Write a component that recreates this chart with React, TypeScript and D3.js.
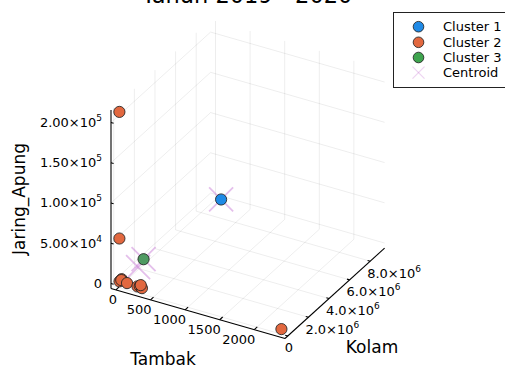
import React from "react";
import * as d3 from "d3";

// ---- data ----
const seriesNames = ["Cluster 1", "Cluster 2", "Cluster 3", "Centroid"];

const cluster1Tambak = [200];
const cluster1Kolam = [8600000];
const cluster1Jaring = [8000];

const cluster2Tambak = [10, 10, 5, 40, 25, 116, 270, 298, 333, 310, 2352];
const cluster2Kolam = [0, 0, 50000, 20000, 80000, 30000, 10000, 40000, 20000, 60000, 0];
const cluster2Jaring = [212000, 54700, 800, 4700, 2500, 1600, 1500, 2200, 800, 3500, 0];

const cluster3Tambak = [300];
const cluster3Kolam = [400000];
const cluster3Jaring = [31500];

const centroidTambak = [200, 276, 300];
const centroidKolam = [8600000, 28000, 400000];
const centroidJaring = [8000, 25500, 31500];

const tambakTicks = [0, 500, 1000, 1500, 2000];
const kolamTicks = [0, 2e6, 4e6, 6e6, 8e6];
const jaringTicks = [0, 5e4, 1e5, 1.5e5, 2e5];
const kolamTickLabels = [["0", ""], ["2.0×10", "6"], ["4.0×10", "6"], ["6.0×10", "6"], ["8.0×10", "6"]];
const jaringTickLabels = [["0", ""], ["5.00×10", "4"], ["1.00×10", "5"], ["1.50×10", "5"], ["2.00×10", "5"]];

const title = "Tahun 2019 - 2020";

// ---- layout ----
const W = 505, H = 369;
const XMIN = -71, XMAX = 2444;
const YMIN = -270000, YMAX = 9400000;
const ZMIN = -6270, ZMAX = 215500;
const O = { x: 111, y: 288.5 };
const EX = { x: 174, y: 50 };
const EY = { x: 99.6, y: -90.4 };
const EZ = 178.5;

const COLORS = { c1: "#1f8ae6", c2: "#e2683f", c3: "#4f9a62", c3legend: "#3ea44e", cen: "#C371D2" };
const FONT = "DejaVu Sans, Verdana, sans-serif";

const xs = d3.scaleLinear().domain([XMIN, XMAX]).range([0, 1]);
const ys = d3.scaleLinear().domain([YMIN, YMAX]).range([0, 1]);
const zs = d3.scaleLinear().domain([ZMIN, ZMAX]).range([0, EZ]);

function P(x: number, y: number, z: number): [number, number] {
  const a = xs(x), b = ys(y);
  return [O.x + a * EX.x + b * EY.x, O.y + a * EX.y + b * EY.y - zs(z)];
}

function seg(p: [number, number], q: [number, number]) {
  return d3.line()([p, q]) as string;
}

function XMark({ cx, cy, r }: { cx: number; cy: number; r: number }) {
  return (
    <g stroke={COLORS.cen} strokeOpacity={0.45} strokeWidth={1.8}>
      <line x1={cx - r} y1={cy - r} x2={cx + r} y2={cy + r} />
      <line x1={cx - r} y1={cy + r} x2={cx + r} y2={cy - r} />
    </g>
  );
}

export default function App() {
  const grid: string[] = [];
  // floor
  tambakTicks.forEach((t) => grid.push(seg(P(t, YMIN, ZMIN), P(t, YMAX, ZMIN))));
  kolamTicks.forEach((k) => grid.push(seg(P(XMIN, k, ZMIN), P(XMAX, k, ZMIN))));
  // wall x = xmin
  kolamTicks.forEach((k) => grid.push(seg(P(XMIN, k, ZMIN), P(XMIN, k, ZMAX))));
  jaringTicks.forEach((z) => grid.push(seg(P(XMIN, YMIN, z), P(XMIN, YMAX, z))));
  // wall y = ymax
  tambakTicks.forEach((t) => grid.push(seg(P(t, YMAX, ZMIN), P(t, YMAX, ZMAX))));
  jaringTicks.forEach((z) => grid.push(seg(P(XMIN, YMAX, z), P(XMAX, YMAX, z))));

  const axes = [
    seg(P(XMIN, YMIN, ZMIN), P(XMIN, YMIN, ZMAX)),
    seg(P(XMIN, YMIN, ZMIN), P(XMAX, YMIN, ZMIN)),
    seg(P(XMAX, YMIN, ZMIN), P(XMAX, YMAX, ZMIN)),
  ];
  const tickMarks: string[] = [];
  tambakTicks.forEach((t) => tickMarks.push(seg(P(t, YMIN, ZMIN), P(t, YMIN + 0.03 * (YMAX - YMIN), ZMIN))));
  kolamTicks.forEach((k) => tickMarks.push(seg(P(XMAX, k, ZMIN), P(XMAX - 0.015 * (XMAX - XMIN), k, ZMIN))));
  jaringTicks.forEach((z) => tickMarks.push(seg(P(XMIN, YMIN, z), P(XMIN + 0.015 * (XMAX - XMIN), YMIN, z))));

  const pts = (tx: number[], ky: number[], jz: number[]) => tx.map((t, i) => P(t, ky[i], jz[i]));
  const c1 = pts(cluster1Tambak, cluster1Kolam, cluster1Jaring);
  const c2 = pts(cluster2Tambak, cluster2Kolam, cluster2Jaring);
  const c3 = pts(cluster3Tambak, cluster3Kolam, cluster3Jaring);
  const cen = pts(centroidTambak, centroidKolam, centroidJaring);

  const R = 5.6;
  const legendY = [26.7, 42.3, 57.5, 72.7];

  return (
    <svg width={W} height={H} style={{ position: "absolute", left: 0, top: 0, background: "#fff" }} fontFamily={FONT}>
      <rect x={0} y={0} width={W} height={H} fill="#fff" />
      <text x={247} y={3} fontSize={22.5} textAnchor="middle" fill="#000">{title}</text>
      <g stroke="#000" strokeOpacity={0.07} strokeWidth={1} fill="none">
        {grid.map((d, i) => <path key={i} d={d} />)}
      </g>
      <g stroke="#000" strokeWidth={1.1} fill="none">
        {axes.map((d, i) => <path key={i} d={d} />)}
        {tickMarks.map((d, i) => <path key={"t" + i} d={d} />)}
      </g>
      {/* tick labels */}
      <g fontSize={13} fill="#000">
        {jaringTicks.map((z, i) => {
          const [, y] = P(XMIN, YMIN, z);
          return (
            <text key={i} x={102} y={y + 4.5} textAnchor="end">
              {jaringTickLabels[i][0]}
              {jaringTickLabels[i][1] && <tspan dy={-6} fontSize={9}>{jaringTickLabels[i][1]}</tspan>}
            </text>
          );
        })}
        {tambakTicks.map((t, i) => {
          const [x, y] = P(t, YMIN, ZMIN);
          return (
            <text key={i} x={x + 1} y={y + 14.5} textAnchor="end">{String(t)}</text>
          );
        })}
        {kolamTicks.map((k, i) => {
          const [x, y] = P(XMAX, k, ZMIN);
          return (
            <text key={i} x={x - 3} y={y + 16.5} textAnchor="start">
              {kolamTickLabels[i][0]}
              {kolamTickLabels[i][1] && <tspan dy={-6} fontSize={9}>{kolamTickLabels[i][1]}</tspan>}
            </text>
          );
        })}
      </g>
      {/* axis titles */}
      <g fontSize={17} fill="#000">
        <text x={163} y={365} textAnchor="middle">Tambak</text>
        <text x={372} y={353} textAnchor="middle">Kolam</text>
        <text transform="translate(25,199) rotate(-90)" textAnchor="middle">Jaring_Apung</text>
      </g>
      {/* centroids */}
      {cen.map(([x, y], i) => <XMark key={i} cx={x} cy={y} r={12} />)}
      {/* clusters */}
      <g stroke="#222" strokeOpacity={0.85} strokeWidth={1}>
        {c1.map(([x, y], i) => <circle key={"a" + i} cx={x} cy={y} r={R} fill={COLORS.c1} />)}
        {c2.map(([x, y], i) => <circle key={"b" + i} cx={x} cy={y} r={R} fill={COLORS.c2} />)}
        {c3.map(([x, y], i) => <circle key={"c" + i} cx={x} cy={y} r={R} fill={COLORS.c3} />)}
      </g>
      {/* legend */}
      <rect x={393.5} y={12.5} width={120} height={75} fill="#fff" stroke="#222" strokeWidth={1} />
      <g stroke="#222" strokeOpacity={0.85} strokeWidth={1}>
        <circle cx={418.5} cy={legendY[0]} r={5.3} fill={COLORS.c1} />
        <circle cx={418.5} cy={legendY[1]} r={5.3} fill={COLORS.c2} />
        <circle cx={418.5} cy={legendY[2]} r={5.3} fill={COLORS.c3legend} />
      </g>
      <g stroke={COLORS.cen} strokeOpacity={0.3} strokeWidth={1.2}>
        <line x1={412.5} y1={legendY[3] - 6} x2={424.5} y2={legendY[3] + 6} />
        <line x1={412.5} y1={legendY[3] + 6} x2={424.5} y2={legendY[3] - 6} />
      </g>
      <g fontSize={13} fill="#000">
        {seriesNames.map((s, i) => (
          <text key={s} x={443} y={legendY[i] + 4.5}>{s}</text>
        ))}
      </g>
    </svg>
  );
}
